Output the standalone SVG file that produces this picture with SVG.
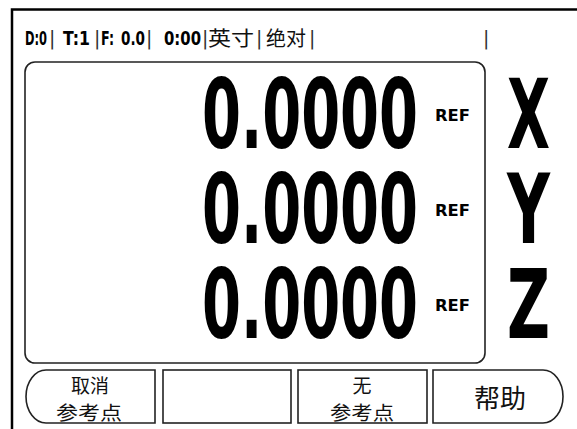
<svg xmlns="http://www.w3.org/2000/svg" width="577" height="429" viewBox="0 0 577 429">
<style>
.frame{fill:none;stroke:#000;stroke-width:2.5}
.box{fill:#fff;stroke:#222;stroke-width:1.6}
.hd{font-family:"DejaVu Sans Condensed","DejaVu Sans",sans-serif;font-weight:bold;font-size:20px;fill:#000}
.bar{font-family:"DejaVu Sans",sans-serif;font-size:19px;fill:#333}
.cj{font-family:"Noto Sans CJK SC",sans-serif;font-size:20px;fill:#111}
.big{font-family:"DejaVu Sans Condensed","DejaVu Sans",sans-serif;font-weight:bold;font-size:96px;fill:#000}
.ref{font-family:"DejaVu Sans Condensed","DejaVu Sans",sans-serif;font-weight:bold;font-size:15px;fill:#000}
.bl{font-family:"Noto Sans CJK SC",sans-serif;font-size:19px;fill:#111;text-anchor:middle}
.help{font-size:26px}
</style>
<rect width="577" height="429" fill="#fff"/>
<g id="frame">
<path class="frame" d="M12,429 V9.5 H577"/>
</g>
<g id="header">
<text class="hd" x="25" y="45" textLength="22" lengthAdjust="spacingAndGlyphs">D:0</text>
<text class="bar" x="49" y="45">|</text>
<text class="hd" x="63" y="45" textLength="27" lengthAdjust="spacingAndGlyphs">T:1</text>
<text class="bar" x="94" y="45">|</text>
<text class="hd" x="101" y="45" textLength="13" lengthAdjust="spacingAndGlyphs">F:</text>
<text class="hd" x="121" y="45" textLength="24" lengthAdjust="spacingAndGlyphs">0.0</text>
<text class="bar" x="146" y="45">|</text>
<text class="hd" x="164" y="45" textLength="37" lengthAdjust="spacingAndGlyphs">0:00</text>
<text class="bar" x="202" y="45">|</text>
<text class="cj" x="208" y="46" textLength="46" lengthAdjust="spacingAndGlyphs">英寸</text>
<text class="bar" x="256" y="45">|</text>
<text class="cj" x="266" y="46" textLength="40" lengthAdjust="spacingAndGlyphs">绝对</text>
<text class="bar" x="309" y="45">|</text>
<text class="bar" x="483" y="45">|</text>
</g>
<g id="display">
<rect class="box" x="25" y="62" width="460" height="301" rx="10" ry="10"/>
</g>
<g id="row-x">
<text class="big" x="202" y="148" textLength="216" lengthAdjust="spacingAndGlyphs">0.0000</text>
<text class="ref" x="435" y="121" textLength="35" lengthAdjust="spacingAndGlyphs">REF</text>
<text class="big" x="507" y="148" textLength="43" lengthAdjust="spacingAndGlyphs">X</text>
</g>
<g id="row-y">
<text class="big" x="202" y="243" textLength="216" lengthAdjust="spacingAndGlyphs">0.0000</text>
<text class="ref" x="435" y="216" textLength="35" lengthAdjust="spacingAndGlyphs">REF</text>
<text class="big" x="507" y="243" textLength="43" lengthAdjust="spacingAndGlyphs">Y</text>
</g>
<g id="row-z">
<text class="big" x="202" y="338" textLength="216" lengthAdjust="spacingAndGlyphs">0.0000</text>
<text class="ref" x="435" y="311" textLength="35" lengthAdjust="spacingAndGlyphs">REF</text>
<text class="big" x="507" y="338" textLength="43" lengthAdjust="spacingAndGlyphs">Z</text>
</g>
<g id="btn-cancel">
<path class="box" d="M155,370 H46 A20,26.5 0 0 0 46,423 H155 Z"/>
<text class="bl" x="90" y="393">取消</text>
<text class="bl" x="89" y="420" textLength="66" lengthAdjust="spacingAndGlyphs">参考点</text>
</g>
<g id="btn-empty">
<rect class="box" x="163" y="370" width="128" height="53"/>
</g>
<g id="btn-noref">
<rect class="box" x="298" y="370" width="129" height="53"/>
<text class="bl" x="362" y="393">无</text>
<text class="bl" x="362" y="420" textLength="64" lengthAdjust="spacingAndGlyphs">参考点</text>
</g>
<g id="btn-help">
<path class="box" d="M433,370 H543 A20,26.5 0 0 1 543,423 H433 Z"/>
<text class="bl help" x="500" y="408">帮助</text>
</g>
<g id="connectors"></g>
</svg>
